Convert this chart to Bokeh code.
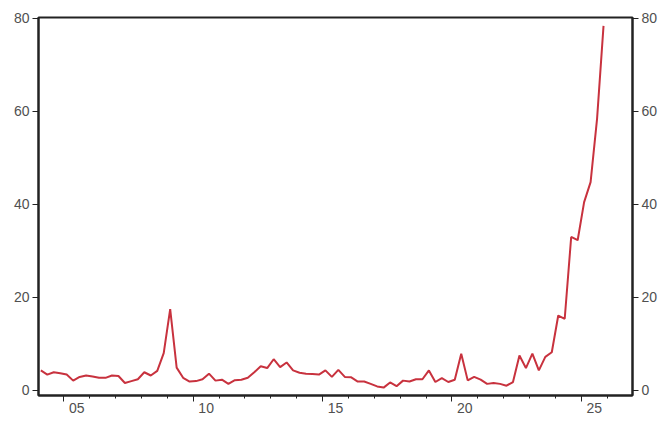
from bokeh.plotting import figure
from bokeh.models import FixedTicker, LinearAxis, Range1d
from bokeh.embed import file_html
from bokeh.resources import INLINE

# Quarterly series, 2004Q1 .. 2025Q4
start_year = 2004
values = [
    4.3, 3.4, 3.9, 3.7, 3.4, 2.1, 2.9, 3.2, 3.0, 2.7,
    2.7, 3.2, 3.1, 1.6, 2.0, 2.4, 3.9, 3.2, 4.2, 8.0,
    17.5, 4.9, 2.7, 1.9, 2.0, 2.4, 3.6, 2.1, 2.3, 1.4,
    2.2, 2.3, 2.7, 3.9, 5.2, 4.8, 6.7, 5.0, 6.0, 4.3,
    3.8, 3.6, 3.5, 3.4, 4.3, 2.9, 4.4, 2.9, 2.8, 1.9,
    1.9, 1.4, 0.85, 0.6, 1.7, 0.9, 2.1, 1.9, 2.4, 2.4,
    4.3, 1.8, 2.65, 1.8, 2.3, 7.9, 2.15, 2.9, 2.3, 1.4,
    1.6, 1.4, 1.0, 1.8, 7.5, 4.8, 7.9, 4.3, 7.2, 8.2,
    16.1, 15.4, 33.0, 32.3, 40.5, 44.8, 58.4, 78.4,
]
dates = [start_year + 0.11 + 0.25 * i for i in range(len(values))]

x_major = [2005, 2010, 2015, 2020, 2025]
x_labels = ["05", "10", "15", "20", "25"]
x_minor = list(range(2004, 2027))
y_ticks = [0, 20, 40, 60, 80]

p = figure(width=660, height=425, output_backend="svg", toolbar_location=None,
           x_range=Range1d(2004.02, 2026.98), y_range=Range1d(-1.1, 80.2),
           min_border_left=38, min_border_right=28, min_border_top=17,
           min_border_bottom=30, y_axis_location=None, x_axis_location=None)

p.line(dates, values, line_color="#c8323e", line_width=2)

p.xgrid.visible = False
p.ygrid.visible = False
p.outline_line_color = "#222222"
p.outline_line_width = 2
p.background_fill_color = "white"
p.border_fill_color = "white"

def style(ax):
    ax.axis_line_color = "#222222"
    ax.axis_line_width = 2
    ax.major_tick_line_color = "#222222"
    ax.major_tick_line_width = 1
    ax.major_tick_out = 6
    ax.major_tick_in = 0
    ax.major_label_text_color = "#505050"
    ax.major_label_text_font = "Liberation Sans"
    ax.major_label_text_font_size = "14px"

# tick marks at the start of each year
xa = LinearAxis(ticker=FixedTicker(ticks=x_major, minor_ticks=x_minor))
style(xa)
xa.major_label_overrides = {t: "" for t in x_major}
xa.major_label_text_font_size = "1px"
xa.major_label_standoff = 0
xa.minor_tick_line_color = "#222222"
xa.minor_tick_out = 3
xa.minor_tick_in = 0
p.add_layout(xa, "below")

# year labels centred in the year interval
label_pos = [t + 0.5 for t in x_major]
xl = LinearAxis(ticker=FixedTicker(ticks=label_pos, minor_ticks=[]))
style(xl)
xl.axis_line_color = None
xl.major_tick_line_color = None
xl.minor_tick_line_color = None
xl.major_tick_out = 0
xl.major_label_standoff = 1
xl.major_label_overrides = {t: l for t, l in zip(label_pos, x_labels)}
p.add_layout(xl, "below")

for side in ("left", "right"):
    ya = LinearAxis(ticker=FixedTicker(ticks=y_ticks))
    style(ya)
    ya.minor_tick_line_color = None
    ya.major_label_standoff = 3
    p.add_layout(ya, side)

open("out.html", "w").write(file_html(p, INLINE))
